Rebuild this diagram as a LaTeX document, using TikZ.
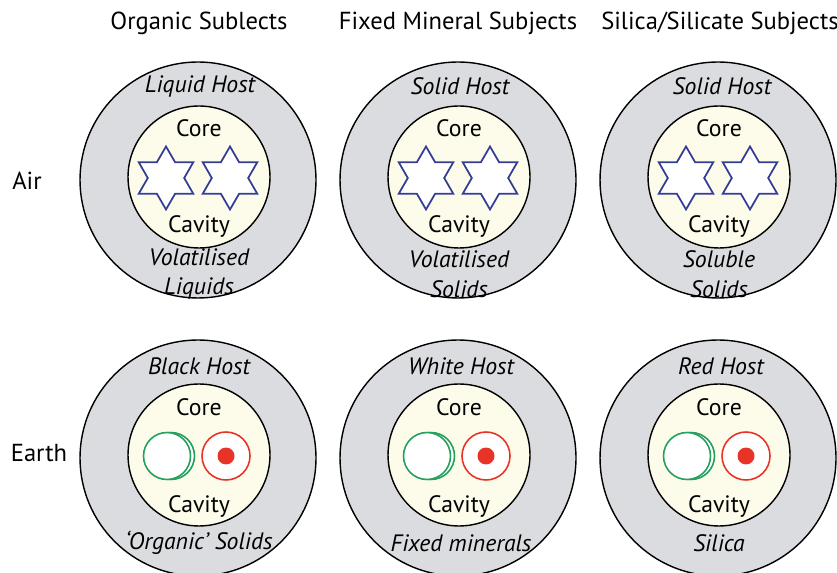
\documentclass[tikz,border=0pt]{standalone}
\usepackage{fontspec}
\setmainfont{PT Sans}
\usetikzlibrary{shapes.geometric, positioning}
\definecolor{hostgray}{RGB}{219,220,223}
\definecolor{corecream}{RGB}{253,252,234}
\definecolor{starblue}{RGB}{52,62,150}
\definecolor{orggreen}{RGB}{34,160,92}
\definecolor{minred}{RGB}{232,52,40}
\tikzset{
  host/.style={draw=black, fill=hostgray, circle, line width=0.8pt, minimum size=4.72cm, inner sep=0pt},
  core/.style={draw=black, fill=corecream, circle, line width=0.8pt, minimum size=2.84cm, inner sep=0pt},
  hexstar/.style={draw=starblue, fill=white, star, star points=6, star point ratio=1.73, line width=1pt, minimum size=1.26cm, inner sep=0pt},
  lumpa/.style={draw=orggreen, fill=white, circle, line width=0.9pt, minimum size=0.94cm, inner sep=0pt},
  lumpb/.style={draw=minred, fill=white, circle, line width=0.9pt, minimum size=0.96cm, inner sep=0pt},
  dot/.style={fill=minred, circle, minimum size=0.34cm, inner sep=0pt},
  txt/.style={font=\fontsize{13.5}{17}\selectfont, align=center, inner sep=0pt},
  itxt/.style={txt, font=\fontsize{13.5}{17}\selectfont\itshape},
  title/.style={font=\fontsize{14}{16}\selectfont, inner sep=0pt}
}
\begin{document}
\begin{tikzpicture}[x=0.02cm, y=-0.02cm]
  \useasboundingbox (0,0) rectangle (837,573);

  % column titles and row names
  \node [title] (tOrg) at (199,23) {Organic Sublects};
  \node [title] (tMin) at (458,23) {Fixed Mineral Subjects};
  \node [title] (tSil) at (720,23) {Silica/Silicate Subjects};
  \node [txt, font=\fontsize{14}{16}\selectfont] (rAir) at (27,181) {Air};
  \node [txt, font=\fontsize{14}{16}\selectfont] (rEarth) at (39,453) {Earth};

  % air row
  \node [host] (hostA1) at (198,180) {};
  \node [core] (coreA1) at (199,177) {};
  \node [hexstar] (starA1a) at (166,178) {};
  \node [hexstar] (starA1b) at (230,178) {};
  \node [itxt] at (200,86) {Liquid Host};
  \node [txt] at (199,128) {Core};
  \node [txt] at (199,226) {Cavity};
  \node [itxt] at (199,274) {Volatilised\\Liquids};

  \node [host] (hostA2) at (458,180) {};
  \node [core] (coreA2) at (459,177) {};
  \node [hexstar] (starA2a) at (426,178) {};
  \node [hexstar] (starA2b) at (490,178) {};
  \node [itxt] at (460,86) {Solid Host};
  \node [txt] at (459,128) {Core};
  \node [txt] at (459,226) {Cavity};
  \node [itxt] at (459,274) {Volatilised\\Solids};

  \node [host] (hostA3) at (718,180) {};
  \node [core] (coreA3) at (719,177) {};
  \node [hexstar] (starA3a) at (686,178) {};
  \node [hexstar] (starA3b) at (750,178) {};
  \node [itxt] at (722,86) {Solid Host};
  \node [txt] at (719,128) {Core};
  \node [txt] at (719,226) {Cavity};
  \node [itxt] at (719,274) {Soluble\\Solids};

  % earth row
  \node [host] (hostE1) at (198,458) {};
  \node [core] (coreE1) at (199,455) {};
  \node [lumpa] at (171,456) {};
  \node [lumpa] (lumpE1) at (167,456) {};
  \node [lumpb] (ringE1) at (226,456) {};
  \node [dot] at (ringE1) {};
  \node [itxt] at (199,366) {Black Host};
  \node [txt] at (199,407) {Core};
  \node [txt] at (199,506) {Cavity};
  \node [itxt] at (199,543) {`Organic' Solids};

  \node [host] (hostE2) at (458,458) {};
  \node [core] (coreE2) at (459,455) {};
  \node [lumpa] at (431,456) {};
  \node [lumpa] (lumpE2) at (427,456) {};
  \node [lumpb] (ringE2) at (486,456) {};
  \node [dot] at (ringE2) {};
  \node [itxt] at (461,366) {White Host};
  \node [txt] at (459,407) {Core};
  \node [txt] at (459,506) {Cavity};
  \node [itxt] at (461,543) {Fixed minerals};

  \node [host] (hostE3) at (718,458) {};
  \node [core] (coreE3) at (719,455) {};
  \node [lumpa] at (691,456) {};
  \node [lumpa] (lumpE3) at (687,456) {};
  \node [lumpb] (ringE3) at (746,456) {};
  \node [dot] at (ringE3) {};
  \node [itxt] at (721,366) {Red Host};
  \node [txt] at (719,407) {Core};
  \node [txt] at (719,506) {Cavity};
  \node [itxt] at (719,543) {Silica};
\end{tikzpicture}
\end{document}
